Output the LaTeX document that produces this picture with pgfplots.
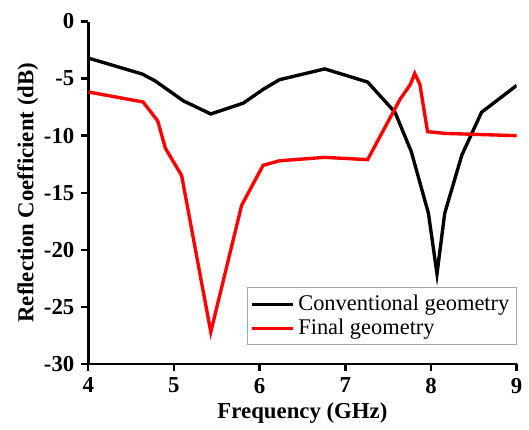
\documentclass[border=0pt]{standalone}
\usepackage{fontspec}
\setmainfont{Liberation Serif}
\usepackage{pgfplots}
\pgfplotsset{compat=1.18}

\begin{document}
\begin{tikzpicture}
\begin{axis}[
  name=ax,
  scale only axis,
  width=216pt,
  height=172.65pt,
  xmin=4, xmax=9,
  ymin=-30, ymax=0,
  xtick={4,...,9},
  ytick={-30,-25,...,0},
  axis x line*=bottom,
  axis y line*=left,
  axis line style={line width=1.4pt},
  tick style={line width=1.2pt,black},
  tick align=outside,
  major tick length=3.5pt,
  minor tick num=0,
  /pgf/number format/assume math mode=true,
  tick label style={font=\fontsize{11.5}{13}\selectfont\bfseries},
  xlabel={Frequency (GHz)},
  ylabel={Reflection Coefficient (dB)},
  label style={font=\fontsize{11.5}{13}\selectfont\bfseries},
  xlabel style={at={(axis description cs:0.5,-0.142)},anchor=center},
  ylabel style={at={(axis description cs:-0.141,0.5)},anchor=center},
  legend style={at={(axis cs:9,-23.3)},anchor=north east,
    draw=gray!70,line width=0.4pt,font=\fontsize{11.3}{13}\selectfont,
    inner sep=1.5pt,row sep=-1pt,cells={anchor=west}},
  legend image code/.code={\draw[#1,line width=1.6pt] (0cm,0cm) -- (0.72cm,0cm);},
]
\addplot[black,line width=1.7pt] coordinates {
(4.00,-3.2) (4.63,-4.6) (4.78,-5.2) (5.11,-6.95) (5.43,-8.1) (5.81,-7.15)
(6.04,-5.95) (6.23,-5.1) (6.76,-4.15) (7.26,-5.3) (7.58,-7.95) (7.77,-11.4)
(7.97,-16.8) (8.07,-22.1) (8.16,-16.8) (8.36,-11.7) (8.59,-7.95) (9.00,-5.6)
};
\addlegendentry{Conventional geometry}
\addplot[red,line width=1.7pt] coordinates {
(4.00,-6.17) (4.64,-7.05) (4.81,-8.7) (4.90,-11.1) (5.09,-13.5) (5.43,-27.2)
(5.79,-16.1) (6.04,-12.6) (6.23,-12.2) (6.76,-11.9) (7.26,-12.1) (7.64,-6.8)
(7.76,-5.5) (7.81,-4.55) (7.87,-5.5) (7.96,-9.65) (8.16,-9.8) (9.00,-10.0)
};
\addlegendentry{Final geometry}
\end{axis}
\path (ax.south west) ++(-44.5pt,-32.5pt) rectangle ++(264.5pt,216pt);
\end{tikzpicture}
\end{document}
